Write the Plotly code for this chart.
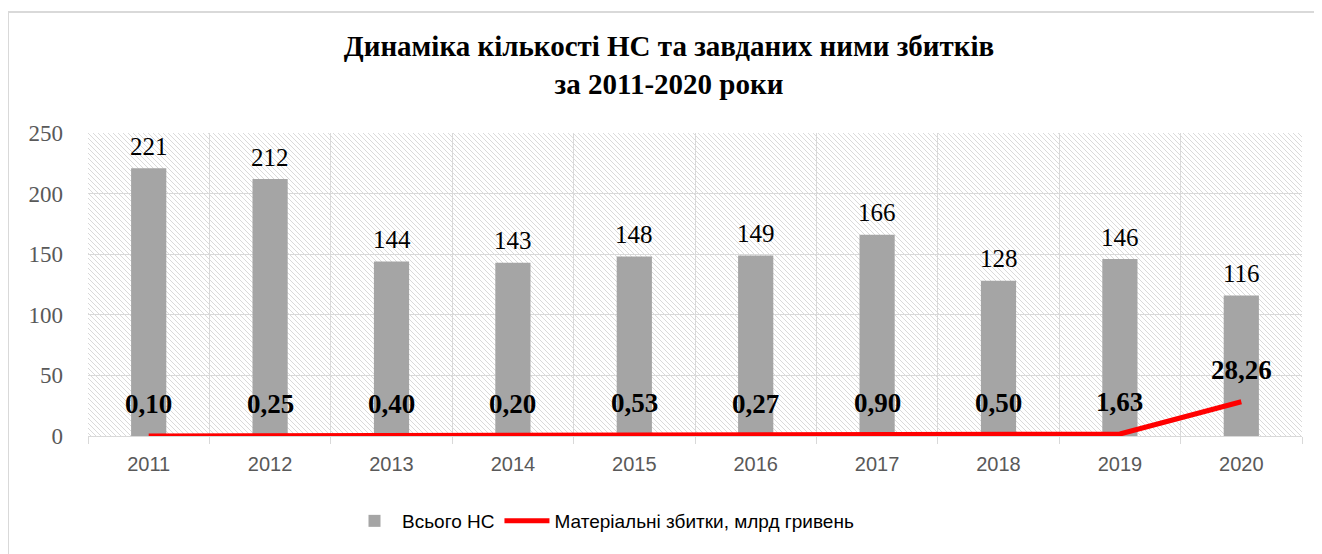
import base64
import plotly.graph_objects as go

years = ["2011", "2012", "2013", "2014", "2015", "2016", "2017", "2018", "2019", "2020"]
total_ns = [221, 212, 144, 143, 148, 149, 166, 128, 146, 116]
damages = [0.10, 0.25, 0.40, 0.20, 0.53, 0.27, 0.90, 0.50, 1.63, 28.26]
damage_labels = ["0,10", "0,25", "0,40", "0,20", "0,53", "0,27", "0,90", "0,50", "1,63", "28,26"]

title_text = "<b>Динаміка кількості НС та завданих ними збитків<br>за 2011-2020 роки</b>"
bar_name = "Всього НС"
line_name = "Матеріальні збитки, млрд гривень"

GRID = "#d9d9d9"
SERIF = "Liberation Serif"
SANS = "Liberation Sans"

# page has an 8px body margin; figure is sized so the plot lands where the reference has it
W, H = 1314, 546
ML, MT, PW, PH = 80, 125, 1214, 303

# hatched plot background (style only)
svg = (
    "<svg xmlns='http://www.w3.org/2000/svg' width='1214' height='303'>"
    "<defs><pattern id='p' width='5' height='5' patternUnits='userSpaceOnUse'>"
    "<path d='M0,0 L5,5 M-1,4 L1,6 M4,-1 L6,1' stroke='#dadada' stroke-width='1'/>"
    "</pattern></defs><rect width='100%' height='100%' fill='url(#p)'/></svg>"
)
hatch_uri = "data:image/svg+xml;base64," + base64.b64encode(svg.encode()).decode()

fig = go.Figure()
fig.add_trace(go.Bar(
    x=years, y=total_ns, name=bar_name,
    marker=dict(color="#a5a5a5", line=dict(width=0)),
    width=0.29,
))
fig.add_trace(go.Scatter(
    x=years, y=damages, name=line_name, mode="lines",
    line=dict(color="#ff0000", width=5),
))

for i, v in enumerate(total_ns):
    fig.add_annotation(
        x=i, y=v, xref="x", yref="y", text=str(v), showarrow=False,
        yanchor="middle", yshift=22,
        font=dict(family=SERIF, size=25, color="#000000"),
    )
for i, (v, lab) in enumerate(zip(damages, damage_labels)):
    fig.add_annotation(
        x=i, y=v, xref="x", yref="y", text="<b>" + lab + "</b>", showarrow=False,
        yanchor="middle", yshift=32,
        font=dict(family=SERIF, size=27, color="#000000"),
    )

fig.update_layout(
    width=W, height=H,
    margin=dict(l=ML, r=W - ML - PW, t=MT, b=H - MT - PH, autoexpand=False),
    paper_bgcolor="#ffffff",
    plot_bgcolor="rgba(0,0,0,0)",
    title=dict(
        text=title_text, x=(669 - 8) / W, xanchor="center", xref="container",
        y=1 - (56 - 8) / H, yanchor="middle", yref="container",
        font=dict(family=SERIF, size=29, color="#000000"),
    ),
    xaxis=dict(
        type="category", tickson="boundaries",
        showgrid=True, gridcolor=GRID, gridwidth=1,
        showline=True, linecolor=GRID, linewidth=1,
        ticks="outside", ticklen=7, tickcolor=GRID,
        tickfont=dict(family=SANS, size=20, color="#595959"),
        ticklabelstandoff=10,
        range=[-0.5, 9.5],
    ),
    yaxis=dict(
        range=[0, 250], dtick=50, showgrid=True, gridcolor=GRID, gridwidth=1,
        zeroline=False, showline=False, ticks="",
        tickfont=dict(family=SERIF, size=23, color="#595959"),
        ticklabelstandoff=24,
    ),
    legend=dict(
        orientation="h", x=(603 - 88) / PW, xanchor="center",
        y=(436 - 521) / PH, yanchor="middle",
        font=dict(family=SANS, size=19, color="#000000"),
        itemwidth=45,
    ),
    showlegend=True,
    images=[dict(
        source=hatch_uri, xref="paper", yref="paper", x=0, y=1,
        sizex=1, sizey=1, xanchor="left", yanchor="top",
        sizing="stretch", layer="below",
    )],
    shapes=[dict(
        type="rect", xref="paper", yref="paper",
        x0=(0 - ML) / PW, x1=(W + 40 - ML) / PW,
        y0=-(H + 40 - MT - PH) / PH, y1=(MT + PH - 4) / PH,
        line=dict(color="#d9d9d9", width=2), fillcolor="rgba(0,0,0,0)",
        layer="below",
    )],
    bargap=0.71,
)

fig.write_html("out.html")
